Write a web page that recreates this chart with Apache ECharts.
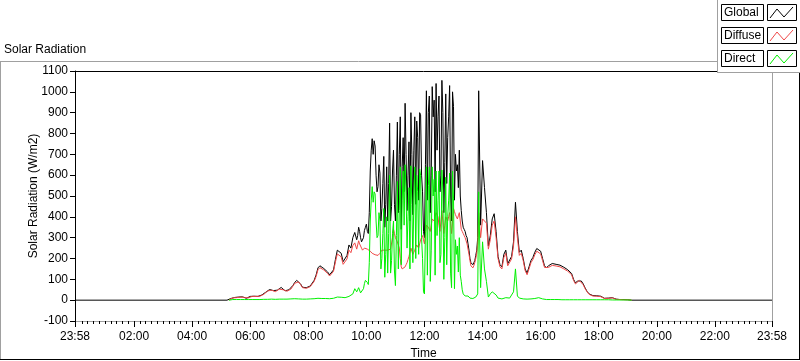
<!DOCTYPE html>
<html>
<head>
<meta charset="utf-8">
<script src="https://cdn.jsdelivr.net/npm/echarts@6/dist/echarts.min.js"></script>
<style>
html,body{margin:0;padding:0;background:#fff;}
#chart{width:800px;height:361px;}
</style>
</head>
<body>
<div id="chart"></div>
<script>
// ---- data (minutes since midnight; readings every 4 minutes from dayStartMinute,
//      plus extra readings in the cloudy midday period offset by 2 minutes) ----
const seriesNames = ['Global', 'Diffuse', 'Direct'];
const dayStartMinute = 316;
const midStartMinute = 582;
const stepMinutes = 4;
const nightBefore = [[-2, 0], [312, 0]];
const nightAfter = [[1152, 0], [1438, 0]];

const globalVals = [
  2,8,12,13,13,15,16,16,14,9, 12,18,19,19,19,18,20,25,30,38,
  46,51,50,46,43,48,56,61,52,45, 45,50,55,70,85,95,92,78,62,56,
  60,64,68,75,95,120,155,165,160,152, 145,135,122,124,145,195,240,245,225,185,
  178,215,265,250,300,325,
  290,350,300,285,335,365,320,620,775,765,600,
  545,610,440,690,460,380,850,450,720,380,
  855,700,340,780,945,430,760,900,410,880,
  860,480,890,520,300,1005,900,420,1025,960,
  1040,880,520,1055,420,990,780,1030,380,930,
  700,650,720,430,350,330,300,240,180,170,
  190,240,1005,360,670,540,420,260,310,390,
  415,330,210,170,160,220,240,175,180,210,
  280,470,330,230,240,200,150,130,160,190,
  205,230,248,245,235,200,165,155,165,172,
  176,175,172,170,168,165,158,150,146,140,
  128,100,82,92,100,92,78,58,42,30,
  24,22,22,21,20,19,14,9,8,10,
  12,12,9,5,4,3,3,3,3,2,1,0
];
const globalMid = [
  310,330,280,300,350,330,420,720,700,740,
  520,650,380,560,350,640,560,380,620,460,
  600,420,880,640,520,700,600,380,700,720,
  460,780,900,600,330,650,480,980,600,880,
  520,720,980,600,900,660,560,880,500,1000,
  480,620,540,500,380,340,310,270,200,175,
  180,215,300
];

const diffuseVals = [
  1,7,11,12,12,14,15,15,13,8, 11,17,18,18,18,17,19,23,28,36,
  44,49,48,44,41,46,53,58,50,43, 43,48,53,67,81,90,88,75,60,54,
  57,61,65,72,90,113,146,156,152,145, 138,128,116,118,138,183,222,226,208,172,
  166,198,240,228,262,275,
  245,285,265,240,250,255,240,235,225,220,220,
  215,225,240,245,235,240,240,250,340,300,
  280,250,160,150,160,180,210,250,220,240,
  265,250,290,310,270,360,350,330,390,380,
  420,400,330,430,320,400,380,420,320,440,
  410,390,420,340,320,300,270,220,165,155,
  180,225,420,300,390,380,370,245,290,360,
  380,300,200,160,150,205,225,165,170,198,
  260,400,300,215,225,190,142,122,150,180,
  195,218,235,232,222,190,157,148,157,164,
  167,166,164,162,160,157,150,143,139,133,
  122,95,78,87,95,87,74,55,40,28,
  22,20,20,19,18,17,12,8,7,9,
  11,11,8,4,3,3,2,2,2,2,1,0
];
const diffuseMid = [
  265,270,250,245,255,245,240,230,222,218,
  212,222,232,238,240,238,245,245,300,320,
  290,265,200,150,155,170,195,230,235,230,
  255,258,270,300,290,320,355,340,360,385,
  400,410,360,380,375,360,390,400,370,380,
  425,400,405,380,330,310,285,245,190,160,
  165,200,270
];

const directVals = [
  0,2,3,3,3,3,3,3,3,2, 3,3,3,3,3,3,3,4,4,4,
  4,4,5,4,4,5,5,6,5,4, 5,5,6,6,7,6,6,5,5,5,
  5,6,6,6,7,8,9,9,8,8, 8,8,7,8,9,12,15,16,14,12,
  12,14,18,16,30,55,
  40,60,35,40,80,100,75,380,545,520,380,
  310,380,200,440,220,130,600,190,380,70,
  570,430,170,620,650,250,540,645,180,640,
  600,220,600,200,30,640,550,90,640,580,
  620,480,180,625,100,590,400,610,60,490,
  290,260,300,90,30,20,25,15,10,8,
  10,20,520,60,280,150,90,15,30,40,
  35,25,10,8,6,15,12,8,10,12,
  40,150,20,10,8,6,5,5,5,6,
  6,8,10,12,9,6,4,3,3,3,
  3,3,3,3,2,2,2,2,2,2,
  2,2,2,2,2,2,2,2,2,2,
  2,2,2,2,2,2,2,2,2,2,
  1,1,1,1,1,1,1,1,1,1,0,0
];
const directMid = [
  50,55,30,55,95,85,180,480,470,510,
  300,420,150,320,110,400,320,130,320,140,
  310,150,640,480,360,520,400,150,460,480,
  200,520,630,300,40,330,120,640,240,500,
  120,310,620,220,525,300,170,480,130,620,
  55,220,135,120,50,30,25,20,10,8,
  10,15,30
];

const xLabelValues = [-2,120,240,360,480,600,720,840,960,1080,1200,1320,1438];
const yMin = -100, yMax = 1100, yInterval = 100;

// ---- build ----
function toPairs(vals, start) {
  return vals.map((v, i) => [start + i * stepMinutes, v]);
}
function merged(main, mid) {
  return toPairs(main, dayStartMinute).concat(toPairs(mid, midStartMinute))
    .sort((a, b) => a[0] - b[0]);
}
const globalData = nightBefore.concat(merged(globalVals, globalMid), nightAfter);
const diffuseData = merged(diffuseVals, diffuseMid);
const directData = merged(directVals, directMid);

const minorTicks = [];
for (let m = 12; m < 1438; m += 12) { if (m % 120 !== 0) minorTicks.push(m); }

function fmtTime(v) {
  if (v < 0 || v > 1430) return '23:58';
  const h = Math.floor(v / 60);
  return (h < 10 ? '0' : '') + h + ':00';
}

const FONT = 'Liberation Sans';
const chart = echarts.init(document.getElementById('chart'), null, {renderer: 'canvas'});

function legendRow(name, color, y) {
  return [
    {type: 'rect', shape: {x: 721.5, y: y + 0.5, width: 42, height: 16},
     style: {fill: '#fff', stroke: '#000', lineWidth: 1}, z: 101},
    {type: 'text', x: 724, y: y + 9, style: {text: name, fill: '#000', font: '12px ' + FONT, textVerticalAlign: 'middle'}, z: 102},
    {type: 'rect', shape: {x: 767.5, y: y + 0.5, width: 29, height: 16},
     style: {fill: '#fff', stroke: '#000', lineWidth: 1}, z: 101},
    {type: 'polyline', shape: {points: [[770, y + 14], [777, y + 5], [784, y + 13], [793, y + 3]]},
     style: {stroke: color, lineWidth: 1, fill: null}, z: 102}
  ];
}

const graphics = [
  // outer frame
  {type: 'line', shape: {x1: 0, y1: 61.5, x2: 717, y2: 61.5}, style: {stroke: '#a0a0a0', lineWidth: 1}, z: 99},
  {type: 'line', shape: {x1: 0.5, y1: 61, x2: 0.5, y2: 360}, style: {stroke: '#a0a0a0', lineWidth: 1}, z: 99},
  {type: 'line', shape: {x1: 0, y1: 359.5, x2: 800, y2: 359.5}, style: {stroke: '#000', lineWidth: 1}, z: 99},
  {type: 'line', shape: {x1: 799.5, y1: 72, x2: 799.5, y2: 360}, style: {stroke: '#000', lineWidth: 1}, z: 99},
  // legend panel
  {type: 'rect', shape: {x: 717, y: 0, width: 83, height: 72}, style: {fill: '#fff'}, z: 100},
  {type: 'line', shape: {x1: 717.5, y1: 0, x2: 717.5, y2: 72.5}, style: {stroke: '#a0a0a0', lineWidth: 1}, z: 100},
  {type: 'line', shape: {x1: 717, y1: 72.5, x2: 800, y2: 72.5}, style: {stroke: '#a0a0a0', lineWidth: 1}, z: 100}
].concat(
  legendRow(seriesNames[0], '#000000', 4),
  legendRow(seriesNames[1], '#f04848', 27),
  legendRow(seriesNames[2], '#00f000', 50)
);

const option = {
  animation: false,
  backgroundColor: '#fff',
  title: {text: 'Solar Radiation', left: 4, top: 44, padding: 0,
    textStyle: {fontFamily: FONT, fontSize: 12, fontWeight: 'normal', color: '#000'}},
  grid: {left: 75, top: 71, right: 28, bottom: 40, show: false, outerBoundsMode: 'none', containLabel: false},
  xAxis: [
    {type: 'value', min: -2, max: 1438, position: 'bottom',
     name: 'Time', nameLocation: 'middle', nameGap: 27,
     nameTextStyle: {fontFamily: FONT, fontSize: 12, color: '#000'},
     axisLine: {show: true, onZero: false, lineStyle: {color: '#a0a0a0', width: 1}},
     axisTick: {show: true, length: 6, customValues: xLabelValues, lineStyle: {color: '#000'}},
     axisLabel: {customValues: xLabelValues, formatter: fmtTime, margin: 10,
       fontFamily: FONT, fontSize: 12, color: '#000'},
     splitLine: {show: false}},
    {type: 'value', min: -2, max: 1438, position: 'bottom',
     axisLine: {show: false, onZero: false},
     axisTick: {show: true, length: 3, customValues: minorTicks, lineStyle: {color: '#000'}},
     axisLabel: {show: false}, splitLine: {show: false}},
    {type: 'value', min: -2, max: 1438, position: 'top',
     axisLine: {show: true, onZero: false, lineStyle: {color: '#000', width: 1}},
     axisTick: {show: false}, axisLabel: {show: false}, splitLine: {show: false}}
  ],
  yAxis: [
    {type: 'value', min: yMin, max: yMax, interval: yInterval, position: 'left',
     name: 'Solar Radiation (W/m2)', nameLocation: 'middle', nameGap: 35, nameMoveOverlap: false,
     nameTextStyle: {fontFamily: FONT, fontSize: 12, color: '#000'},
     axisLine: {show: true, onZero: false, lineStyle: {color: '#000', width: 1}},
     axisTick: {show: true, length: 5, lineStyle: {color: '#000'}},
     axisLabel: {margin: 7, fontFamily: FONT, fontSize: 12, color: '#000',
       formatter: v => String(v)},
     splitLine: {show: false}},
    {type: 'value', min: yMin, max: yMax, interval: yInterval, position: 'right',
     axisLine: {show: true, onZero: false, lineStyle: {color: '#a0a0a0', width: 1}},
     axisTick: {show: false}, axisLabel: {show: false}, splitLine: {show: false}}
  ],
  series: [
    {name: seriesNames[0], type: 'line', data: globalData, showSymbol: false, symbol: 'none',
     lineStyle: {color: '#000000', width: 1}, itemStyle: {color: '#000000'}, z: 2},
    {name: seriesNames[1], type: 'line', data: diffuseData, showSymbol: false, symbol: 'none',
     lineStyle: {color: '#f04848', width: 1}, itemStyle: {color: '#f04848'}, z: 3},
    {name: seriesNames[2], type: 'line', data: directData, showSymbol: false, symbol: 'none',
     lineStyle: {color: '#00f000', width: 1}, itemStyle: {color: '#00f000'}, z: 4}
  ],
  graphic: graphics
};
chart.setOption(option);
</script>
</body>
</html>
